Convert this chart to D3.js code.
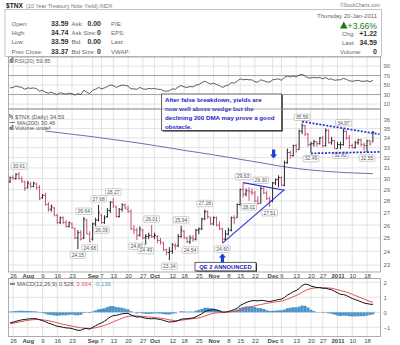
<!DOCTYPE html>
<html><head><meta charset="utf-8">
<script src="https://cdn.jsdelivr.net/npm/d3@7/dist/d3.min.js"></script>
<style>
body{margin:0;background:#fff;}
svg text{font-family:"Liberation Sans",Arial,sans-serif;}
</style></head><body>
<svg id="c" width="400" height="345"></svg>
<script>
// ---------- DATA ----------
const dates = ["2010-07-23","2010-07-26","2010-07-27","2010-07-28","2010-07-29","2010-07-30","2010-08-02","2010-08-03","2010-08-04","2010-08-05","2010-08-06","2010-08-09","2010-08-10","2010-08-11","2010-08-12","2010-08-13","2010-08-16","2010-08-17","2010-08-18","2010-08-19","2010-08-20","2010-08-23","2010-08-24","2010-08-25","2010-08-26","2010-08-27","2010-08-30","2010-08-31","2010-09-01","2010-09-02","2010-09-03","2010-09-07","2010-09-08","2010-09-09","2010-09-10","2010-09-13","2010-09-14","2010-09-15","2010-09-16","2010-09-17","2010-09-20","2010-09-21","2010-09-22","2010-09-23","2010-09-24","2010-09-27","2010-09-28","2010-09-29","2010-09-30","2010-10-01","2010-10-04","2010-10-05","2010-10-06","2010-10-07","2010-10-08","2010-10-12","2010-10-13","2010-10-14","2010-10-15","2010-10-18","2010-10-19","2010-10-20","2010-10-21","2010-10-22","2010-10-25","2010-10-26","2010-10-27","2010-10-28","2010-10-29","2010-11-01","2010-11-02","2010-11-03","2010-11-04","2010-11-05","2010-11-08","2010-11-09","2010-11-10","2010-11-12","2010-11-15","2010-11-16","2010-11-17","2010-11-18","2010-11-19","2010-11-22","2010-11-23","2010-11-24","2010-11-26","2010-11-29","2010-11-30","2010-12-01","2010-12-02","2010-12-03","2010-12-06","2010-12-07","2010-12-08","2010-12-09","2010-12-10","2010-12-13","2010-12-14","2010-12-15","2010-12-16","2010-12-17","2010-12-20","2010-12-21","2010-12-22","2010-12-23","2010-12-27","2010-12-28","2010-12-29","2010-12-30","2010-12-31","2011-01-03","2011-01-04","2011-01-05","2011-01-06","2011-01-07","2011-01-10","2011-01-11","2011-01-12","2011-01-13","2011-01-14","2011-01-18","2011-01-19","2011-01-20"];

const openV  = [29.7,30.1,30.0,30.4,30.0,29.7,29.2,29.5,29.3,29.5,29.2,28.3,28.5,27.7,27.3,27.4,26.8,26.2,26.6,26.2,25.9,26.1,25.7,25.0,25.4,25.0,26.4,25.3,24.9,26.1,26.4,26.8,26.2,26.7,27.2,27.9,27.5,26.7,27.3,27.6,27.3,27.1,25.7,25.6,25.2,25.6,25.0,25.1,25.2,25.1,25.1,24.8,24.6,24.1,23.9,24.0,24.4,24.4,25.1,25.5,25.0,24.7,25.0,24.9,25.6,25.7,26.5,27.1,26.6,26.1,26.6,26.0,25.7,24.9,25.3,25.6,26.6,26.6,27.7,29.0,28.6,28.9,28.8,28.7,28.0,27.8,29.1,28.7,28.2,28.0,29.6,29.9,30.1,29.4,31.5,32.5,32.2,33.2,32.8,34.7,35.3,34.4,33.3,33.4,33.6,33.4,34.0,33.2,34.8,33.5,33.7,32.9,33.3,33.3,34.7,34.0,33.2,33.0,33.5,33.8,33.3,33.2,33.7,33.59];
const highV  = [30.2,30.3,30.5,30.61,30.2,29.8,29.8,29.7,29.7,29.6,29.4,28.6,28.7,27.9,27.7,27.5,26.9,26.7,26.7,26.4,26.3,26.2,25.8,25.6,25.6,26.64,26.5,25.5,26.2,26.6,27.68,26.9,26.8,27.4,28.0,28.27,27.6,27.4,27.8,27.8,27.6,27.3,26.0,25.8,25.9,25.7,25.3,25.4,26.01,25.4,25.2,25.0,24.7,24.2,24.3,24.6,24.6,25.3,25.94,25.6,25.1,25.2,25.2,25.7,25.8,26.6,27.28,27.2,26.7,26.7,26.7,26.3,25.8,25.6,25.8,26.7,26.8,27.8,29.1,29.63,29.1,29.2,29.1,28.9,28.4,29.30,29.2,28.9,28.4,29.7,30.0,30.3,30.2,31.7,32.9,32.7,33.3,33.4,34.9,35.56,35.4,34.5,33.6,33.8,33.7,34.1,34.2,35.0,34.9,34.1,33.8,33.6,33.6,34.97,34.8,34.3,33.4,33.7,33.9,33.9,33.5,33.8,33.8,34.74];
const lowV   = [29.6,29.9,29.9,29.9,29.6,28.9,29.1,29.1,29.2,29.0,28.1,28.2,27.6,27.1,27.1,26.7,26.1,26.1,26.1,25.8,25.8,25.7,24.9,24.15,24.8,24.9,25.3,24.68,24.8,25.9,26.3,26.09,26.1,26.6,27.0,27.4,26.6,26.6,27.1,27.3,27.0,25.6,25.3,24.82,25.1,24.9,24.49,24.9,25.0,24.9,24.6,24.5,24.0,23.7,23.34,23.8,24.1,24.3,25.0,24.9,24.6,24.54,24.7,24.8,25.3,25.6,26.4,26.5,26.0,26.0,25.9,25.6,24.60,24.8,25.2,25.5,26.1,26.6,27.6,28.3,28.4,28.02,28.5,27.9,27.7,27.8,28.6,28.1,27.51,27.9,29.4,29.2,29.3,29.3,31.4,31.9,32.1,32.5,32.8,34.4,34.2,33.1,32.49,33.1,33.1,33.3,33.0,33.1,33.4,33.3,32.9,32.9,32.82,33.2,33.8,32.9,32.9,32.9,33.3,33.1,32.7,32.55,33.2,33.59];
const closeV = [30.1,30.0,30.4,30.0,29.8,29.1,29.6,29.3,29.6,29.2,28.2,28.5,27.7,27.3,27.5,26.8,26.2,26.6,26.2,25.9,26.2,25.8,25.0,25.4,24.9,26.5,25.3,24.7,26.1,26.4,27.0,26.2,26.6,27.2,27.9,27.6,26.7,27.3,27.7,27.4,27.1,25.7,25.6,25.2,25.7,25.0,25.1,25.2,25.1,25.2,24.8,24.7,24.1,23.9,24.0,24.5,24.4,25.1,25.6,25.0,24.7,25.0,24.9,25.6,25.7,26.5,27.1,26.7,26.1,26.6,26.0,25.7,24.9,25.3,25.6,26.6,26.5,27.7,29.0,28.6,28.9,28.8,28.7,28.0,27.8,29.1,28.7,28.2,28.0,29.6,29.9,30.1,29.4,31.5,32.5,32.2,33.2,32.8,34.7,35.3,34.4,33.3,33.4,33.6,33.4,34.0,33.2,34.8,33.5,33.7,32.9,33.3,33.3,34.7,34.0,33.2,33.0,33.5,33.8,33.3,33.2,33.7,33.37,34.59];

// 200-day moving average
const maDates = ["2010-08-10","2010-08-16","2010-08-23","2010-08-30","2010-09-07","2010-09-13","2010-09-20","2010-09-27","2010-10-04","2010-10-12","2010-10-18","2010-10-25","2010-11-01","2010-11-08","2010-11-15","2010-11-22","2010-11-29","2010-12-06","2010-12-13","2010-12-20","2010-12-27","2011-01-03","2011-01-10","2011-01-20"];
const maValues = [34.72,34.57,34.38,34.2,34.0,33.83,33.62,33.4,33.16,32.92,32.72,32.5,32.27,32.03,31.83,31.6,31.4,31.15,30.95,30.8,30.7,30.6,30.53,30.46];

const rsiV = [44,45,48,46,45,41,44,43,44,42,37,39,35,33,35,32,30,34,32,31,33,32,29,32,30,39,35,32,39,41,45,42,44,47,50,49,45,48,50,49,48,42,42,41,45,42,41,43,42,43,41,41,38,37,38,42,41,46,49,46,45,47,46,50,51,55,58,55,52,54,51,49,45,48,50,55,54,58,63,61,62,61,61,57,56,61,59,57,56,61,62,63,60,66,69,67,69,67,71,72.5,69,65,65,66,65,66,63,66,62,63,60,61,61,64,62,59,58,59,60,58,58,59,57,59.85];

const macdV = [-0.71,-0.66,-0.6,-0.55,-0.5,-0.48,-0.45,-0.43,-0.42,-0.43,-0.5,-0.55,-0.63,-0.72,-0.78,-0.86,-0.93,-0.96,-1.0,-1.04,-1.05,-1.08,-1.15,-1.2,-1.2,-1.1,-1.08,-1.12,-1.0,-0.9,-0.78,-0.7,-0.6,-0.45,-0.3,-0.22,-0.2,-0.15,-0.1,-0.08,-0.07,-0.18,-0.25,-0.32,-0.3,-0.35,-0.4,-0.42,-0.43,-0.42,-0.45,-0.48,-0.54,-0.6,-0.65,-0.63,-0.62,-0.55,-0.46,-0.44,-0.43,-0.4,-0.38,-0.3,-0.2,-0.1,0.05,0.12,0.15,0.18,0.15,0.1,0.02,0.02,0.05,0.12,0.18,0.28,0.45,0.55,0.65,0.72,0.77,0.78,0.76,0.8,0.78,0.74,0.72,0.76,0.8,0.85,0.88,0.98,1.15,1.25,1.38,1.45,1.6,1.78,1.88,1.85,1.75,1.7,1.65,1.65,1.6,1.6,1.55,1.5,1.4,1.3,1.2,1.18,1.12,1.02,0.92,0.85,0.78,0.7,0.62,0.58,0.54,0.528];
const signalV = [-0.76,-0.73,-0.69,-0.65,-0.61,-0.57,-0.54,-0.51,-0.49,-0.48,-0.48,-0.5,-0.53,-0.56,-0.6,-0.65,-0.7,-0.75,-0.8,-0.84,-0.88,-0.92,-0.96,-1.0,-1.03,-1.05,-1.06,-1.07,-1.06,-1.03,-0.98,-0.93,-0.87,-0.8,-0.72,-0.63,-0.55,-0.48,-0.4,-0.32,-0.27,-0.25,-0.24,-0.25,-0.26,-0.27,-0.29,-0.31,-0.33,-0.35,-0.37,-0.39,-0.42,-0.46,-0.5,-0.53,-0.55,-0.55,-0.53,-0.5,-0.47,-0.45,-0.42,-0.4,-0.37,-0.32,-0.25,-0.18,-0.12,-0.07,-0.04,-0.02,-0.01,0.0,0.02,0.04,0.06,0.1,0.15,0.2,0.26,0.32,0.38,0.43,0.48,0.52,0.56,0.6,0.63,0.66,0.69,0.72,0.75,0.8,0.88,0.95,1.04,1.12,1.22,1.33,1.44,1.53,1.58,1.62,1.63,1.64,1.64,1.63,1.62,1.6,1.56,1.51,1.45,1.4,1.35,1.28,1.2,1.12,1.04,0.96,0.88,0.8,0.72,0.664];

const tickDates = ["2010-07-26","2010-08-02","2010-08-09","2010-08-16","2010-08-23","2010-09-01","2010-09-07","2010-09-13","2010-09-20","2010-09-27","2010-10-01","2010-10-12","2010-10-18","2010-10-25","2010-11-01","2010-11-08","2010-11-15","2010-11-22","2010-12-01","2010-12-06","2010-12-13","2010-12-20","2010-12-27","2011-01-03","2011-01-10","2011-01-18"];
const tickLabels = ["26","Aug","9","16","23","Sep","7","13","20","27","Oct","12","18","25","Nov","8","15","22","Dec","6","13","20","27","2011","10","18"];
const boldTicks = ["Aug","Sep","Oct","Nov","Dec","2011"];

const priceTicks = [23,24,25,26,27,28,29,30,31,32,33,34,35,36];
const rsiTicks = [10,30,50,70,90];
const macdTicks = [-1,0,1,2];

// swing-point labels: date, value, side (a = above high, b = below low)
const swingDates  = ["2010-07-28","2010-08-25","2010-08-27","2010-08-31","2010-09-03","2010-09-07","2010-09-13","2010-09-23","2010-09-30","2010-09-28","2010-10-08","2010-10-15","2010-10-20","2010-10-27","2010-11-04","2010-11-16","2010-11-18","2010-11-24","2010-11-30","2010-12-15","2010-12-20","2011-01-04","2011-01-05","2011-01-18"];
const swingValues = [30.61,24.15,26.64,24.68,27.68,26.09,28.27,24.82,26.01,24.49,23.34,25.94,24.54,27.28,24.60,29.63,28.02,29.30,27.51,35.56,32.49,32.82,34.97,32.55];
const swingSides  = ["a","b","a","b","a","b","a","b","a","b","b","a","b","a","b","a","b","a","b","a","b","b","a","b"];

// hand-drawn trend lines (date, value pairs)
const wedgeUpper = [["2010-11-16",29.63],["2010-12-07",28.95]];
const wedgeLower = [["2010-11-04",24.60],["2010-12-07",29.0]];
const channelTop = [["2010-12-15",35.75],["2011-01-20",34.5]];
const channelBot = [["2010-12-20",32.42],["2011-01-20",32.55]];

const noteLines = ["After false breakdown, yields are","now well above wedge but the","declining 200 DMA may prove a good","obstacle."];

// ---------- LAYOUT ----------
const svg = d3.select("#c");
const L = 8.5, R = 380.5;
const rsiTop = 57, rsiBot = 109, mainTop = 109, mainBot = 272, macdTop = 278.5, macdBot = 336.5;
const step = 2.95;
const x = d3.scalePoint().domain(dates).range([13 - step, 13 + (dates.length - 2) * step]);
const yP = d3.scaleLog().domain([23, 36]).range([265, 119.3]);
const yR = d3.scaleLinear().domain([0, 100]).range([108.8, 61.3]);
const yM = d3.scaleLinear().domain([-1, 2]).range([327.3, 282.3]);
const grid = "#dcdcdc", frame = "#9a9a9a";

// header
svg.append("text").attr("x", 6).attr("y", 8).attr("font-size", 6.6).attr("font-weight", "bold").attr("fill", "#222").text("$TNX");
svg.append("text").attr("x", 26).attr("y", 8).attr("font-size", 5.5).attr("fill", "#777").text("(10 Year Treasury Note Yield) INDX");
svg.append("text").attr("x", 380).attr("y", 6.5).attr("font-size", 4.8).attr("fill", "#777").attr("text-anchor", "end").text("©StockCharts.com");
svg.append("rect").attr("x", 5).attr("y", 9.5).attr("width", 376.5).attr("height", 47).attr("fill", "none").attr("stroke", "#b5b5b5").attr("stroke-width", 0.8);

const hdrRows = [["Open:","33.59","Ask:","0.00","P/E:"],["High:","34.74","Ask Size:","0","EPS:"],["Low:","33.59","Bid:","0.00","Last:"],["Prev Close:","33.37","Bid Size:","0","VWAP:"]];
const hdrY = [26.3, 35.3, 44.3, 53.5];
hdrRows.forEach((r, k) => {
  const g = svg.append("g").attr("font-size", 6);
  g.append("text").attr("x", 11.5).attr("y", hdrY[k]).attr("fill", "#666").text(r[0]);
  g.append("text").attr("x", 68.5).attr("y", hdrY[k]).attr("text-anchor", "end").attr("font-weight", "bold").attr("font-size", 7).attr("fill", "#333").text(r[1]);
  g.append("text").attr("x", 71.5).attr("y", hdrY[k]).attr("fill", "#666").text(r[2]);
  g.append("text").attr("x", 101).attr("y", hdrY[k]).attr("text-anchor", "end").attr("font-weight", "bold").attr("font-size", 7).attr("fill", "#333").text(r[3]);
  g.append("text").attr("x", 111).attr("y", hdrY[k]).attr("fill", "#666").text(r[4]);
});
svg.append("text").attr("x", 377).attr("y", 17.5).attr("font-size", 6).attr("fill", "#666").attr("text-anchor", "end").text("Thursday  20-Jan-2011");
svg.append("path").attr("d", "M340,28.5 L343.8,21.5 L347.6,28.5 Z").attr("fill", "#1a7a1a");
svg.append("text").attr("x", 377).attr("y", 28.5).attr("font-size", 8.6).attr("fill", "#1a7a1a").attr("text-anchor", "end").text("+3.66%");
[["Chg:","+1.22",36.3],["Last:","34.59",45],["Volume:","0",54.3]].forEach(r => {
  svg.append("text").attr("x", r[0] === "Volume:" ? 340 : 342).attr("y", r[2]).attr("font-size", 6).attr("fill", "#666").text(r[0]);
  svg.append("text").attr("x", 377).attr("y", r[2]).attr("font-size", 7).attr("font-weight", "bold").attr("fill", "#333").attr("text-anchor", "end").text(r[1]);
});

// vertical grids in every panel
[[rsiTop, rsiBot], [mainTop, mainBot], [macdTop, macdBot]].forEach(([t, b]) => {
  svg.append("g").selectAll("line").data(tickDates).join("line")
    .attr("x1", d => x(d)).attr("x2", d => x(d)).attr("y1", t).attr("y2", b)
    .attr("stroke", grid).attr("stroke-width", 0.8);
});

// ---------- RSI panel ----------
svg.append("g").selectAll("line").data(rsiTicks).join("line")
  .attr("x1", L).attr("x2", R).attr("y1", d => yR(d)).attr("y2", d => yR(d))
  .attr("stroke", d => (d === 70 || d === 30) ? "#8a8a8a" : grid).attr("stroke-width", 0.8);
svg.append("path").datum(rsiV).attr("fill", "none").attr("stroke", "#333").attr("stroke-width", 0.8)
  .attr("d", d3.line().x((d, i) => x(dates[i])).y(d => yR(d)));
svg.append("g").attr("transform", `translate(${R},0)`).call(d3.axisRight(yR).tickValues(rsiTicks).tickSize(0).tickPadding(3));
svg.append("rect").attr("x", L).attr("y", rsiTop).attr("width", R - L).attr("height", rsiBot - rsiTop).attr("fill", "none").attr("stroke", frame).attr("stroke-width", 0.8);
svg.append("path").attr("d", "M10,63 v-3.5 h1.2 v3.5 M11.8,63 v-5 h1.2 v5").attr("stroke", "#555").attr("stroke-width", 0.8).attr("fill", "none");
svg.append("text").attr("x", 14.5).attr("y", 63).attr("font-size", 5.8).attr("fill", "#666").text("RSI(20) 59.85");

// ---------- Main panel ----------
svg.append("g").selectAll("line").data(priceTicks).join("line")
  .attr("x1", L).attr("x2", R).attr("y1", d => yP(d)).attr("y2", d => yP(d))
  .attr("stroke", grid).attr("stroke-width", 0.8);
svg.append("g").attr("transform", `translate(${R},0)`).call(d3.axisRight(yP).tickValues(priceTicks).tickFormat(d3.format("d")).tickSize(0).tickPadding(3));

// MA(200)
svg.append("path").datum(maDates.map((d, i) => [d, maValues[i]])).attr("fill", "none")
  .attr("stroke", "#6f6fae").attr("stroke-width", 1)
  .attr("d", d3.line().x(d => x(d[0])).y(d => yP(d[1])).curve(d3.curveMonotoneX));

// OHLC bars
const bars = svg.append("g").attr("stroke-width", 1);
dates.forEach((d, i) => {
  const up = i === 0 ? closeV[i] >= openV[i] : closeV[i] >= closeV[i - 1];
  const c = up ? "#262626" : "#c4507a";
  const cx = x(d);
  bars.append("line").attr("x1", cx).attr("x2", cx).attr("y1", yP(highV[i])).attr("y2", yP(lowV[i])).attr("stroke", c);
  bars.append("line").attr("x1", cx - 1.3).attr("x2", cx).attr("y1", yP(openV[i])).attr("y2", yP(openV[i])).attr("stroke", c);
  bars.append("line").attr("x1", cx).attr("x2", cx + 1.3).attr("y1", yP(closeV[i])).attr("y2", yP(closeV[i])).attr("stroke", c);
});

// swing labels
const sw = svg.append("g");
swingDates.forEach((d, i) => {
  const cx = x(d), v = swingValues[i];
  const cy = swingSides[i] === "a" ? yP(v) - 6 : yP(v) + 6;
  sw.append("rect").attr("x", cx - 7.8).attr("y", cy - 3.2).attr("width", 15.6).attr("height", 6.4)
    .attr("fill", "#fff").attr("stroke", "#aaa").attr("stroke-width", 0.6).attr("rx", 0.8);
  sw.append("text").attr("x", cx).attr("y", cy + 1.8).attr("text-anchor", "middle").attr("font-size", 5).attr("fill", "#555").text(v.toFixed(2));
});

// trend lines
function tl(pts, dashed, extend) {
  let x1 = x(pts[0][0]), y1 = yP(pts[0][1]), x2 = x(pts[1][0]), y2 = yP(pts[1][1]);
  if (extend) { const s = (y2 - y1) / (x2 - x1); y2 = y2 + s * (R - 1 - x2); x2 = R - 1; }
  svg.append("line").attr("x1", x1).attr("y1", y1).attr("x2", x2).attr("y2", y2)
    .attr("stroke", "#1f2fd6").attr("stroke-width", dashed ? 1.7 : 1.1)
    .attr("stroke-dasharray", dashed ? "2,1.5" : null);
}
tl(wedgeUpper, false, false);
tl(wedgeLower, false, false);
tl(channelTop, true, true);
tl(channelBot, true, true);

// arrows
function arrow(cx, tipY, dir) { // dir 1 = pointing down, -1 = up
  const h = 4, len = 9;
  const p = dir === 1
    ? `M${cx-1.6},${tipY-len} h3.2 v${len-h} h2 L${cx},${tipY} L${cx-3.6},${tipY-h} h2 Z`
    : `M${cx-1.6},${tipY+len} h3.2 v${-(len-h)} h2 L${cx},${tipY} L${cx-3.6},${tipY+h} h2 Z`;
  svg.append("path").attr("d", p).attr("fill", "#1f3fd0");
}
arrow(x("2010-12-01") + 1, 158.5, 1);
arrow(x("2010-11-04"), 253.5, -1);

// QE box
svg.append("rect").attr("x", 196).attr("y", 263.3).attr("width", 61).attr("height", 8.6).attr("fill", "#333");
svg.append("rect").attr("x", 195).attr("y", 262.3).attr("width", 61).attr("height", 8.6).attr("fill", "#fff").attr("stroke", "#222").attr("stroke-width", 0.7);
svg.append("text").attr("x", 225.5).attr("y", 268.8).attr("text-anchor", "middle").attr("font-size", 5.8).attr("font-weight", "bold").attr("fill", "#2323c8").text("QE 2 ANNOUNCED");

// legend
svg.append("path").attr("d", "M10,118 v-4 M9,115 h1 M10,117 h1 M12,119 v-4 M11,116 h1 M12,118 h1").attr("stroke", "#444").attr("stroke-width", 0.7).attr("fill", "none");
svg.append("text").attr("x", 15).attr("y", 119).attr("font-size", 5.8).attr("fill", "#555").text("$TNX (Daily) 34.59");
svg.append("line").attr("x1", 9.5).attr("x2", 15).attr("y1", 122.5).attr("y2", 122.5).attr("stroke", "#6f6fae").attr("stroke-width", 1);
svg.append("text").attr("x", 17).attr("y", 124.5).attr("font-size", 5.8).attr("fill", "#555").text("MA(200) 30.46");
svg.append("path").attr("d", "M10,130 v-3 h1 v3 M12,130 v-4.5 h1 v4.5").attr("stroke", "#444").attr("stroke-width", 0.7).attr("fill", "none");
svg.append("text").attr("x", 15).attr("y", 130.3).attr("font-size", 5.8).attr("fill", "#555").text("Volume undef");

// note box
svg.append("rect").attr("x", 162.7).attr("y", 95).attr("width", 120).attr("height", 36.5).attr("fill", "#222");
svg.append("rect").attr("x", 161.7).attr("y", 94).attr("width", 120).attr("height", 36.5).attr("fill", "#fff").attr("stroke", "#222").attr("stroke-width", 0.7);
noteLines.forEach((t, k) => {
  svg.append("text").attr("x", 165).attr("y", 101.5 + k * 9.2).attr("font-size", 6.2).attr("font-weight", "bold").attr("fill", "#2323c8").text(t);
});

svg.append("rect").attr("x", L).attr("y", mainTop).attr("width", R - L).attr("height", mainBot - mainTop).attr("fill", "none").attr("stroke", frame).attr("stroke-width", 0.8);

// date axes
function dateAxis(yPos) {
  const g = svg.append("g").attr("transform", `translate(0,${yPos})`)
    .call(d3.axisBottom(x).tickValues(tickDates).tickSize(0).tickPadding(0)
      .tickFormat(d => tickLabels[tickDates.indexOf(d)]));
  g.select(".domain").remove();
  g.selectAll("text").attr("font-size", 6).attr("fill", "#444").attr("y", 0).attr("dy", 0)
    .attr("font-weight", d => boldTicks.includes(tickLabels[tickDates.indexOf(d)]) ? "bold" : "normal");
}
dateAxis(278);
dateAxis(342.5);

// ---------- MACD panel ----------
svg.append("g").selectAll("line").data(macdTicks).join("line")
  .attr("x1", L).attr("x2", R).attr("y1", d => yM(d)).attr("y2", d => yM(d))
  .attr("stroke", grid).attr("stroke-width", 0.8);
const hist = macdV.map((m, i) => m - signalV[i]);
svg.append("g").selectAll("rect").data(hist).join("rect")
  .attr("x", (d, i) => x(dates[i]) - 1.5).attr("width", 3)
  .attr("y", d => Math.min(yM(d), yM(0))).attr("height", d => Math.abs(yM(d) - yM(0)))
  .attr("fill", "#4a94cc");
svg.append("path").datum(signalV).attr("fill", "none").attr("stroke", "#e05050").attr("stroke-width", 1)
  .attr("d", d3.line().x((d, i) => x(dates[i])).y(d => yM(d)));
svg.append("path").datum(macdV).attr("fill", "none").attr("stroke", "#111").attr("stroke-width", 1)
  .attr("d", d3.line().x((d, i) => x(dates[i])).y(d => yM(d)));
svg.append("g").attr("transform", `translate(${R},0)`).call(d3.axisRight(yM).tickValues(macdTicks).tickFormat(d3.format("d")).tickSize(0).tickPadding(3));
svg.append("rect").attr("x", L).attr("y", macdTop).attr("width", R - L).attr("height", macdBot - macdTop).attr("fill", "none").attr("stroke", frame).attr("stroke-width", 0.8);
svg.append("line").attr("x1", 10).attr("x2", 15).attr("y1", 284).attr("y2", 284).attr("stroke", "#111").attr("stroke-width", 1);
const ml = svg.append("text").attr("x", 17).attr("y", 286).attr("font-size", 5.8).attr("fill", "#555");
ml.append("tspan").text("MACD(12,26,9) 0.528, ");
ml.append("tspan").attr("fill", "#e05050").text("0.664, ");
ml.append("tspan").attr("fill", "#3a9ab8").text("-0.136");

// right axes style
svg.selectAll(".domain").remove();
svg.selectAll(".tick text").filter(function(){ return this.getAttribute("font-size") === null; })
  .attr("font-size", 6).attr("fill", "#666");
svg.selectAll("g").attr("font-family", null);
</script>
</body></html>
